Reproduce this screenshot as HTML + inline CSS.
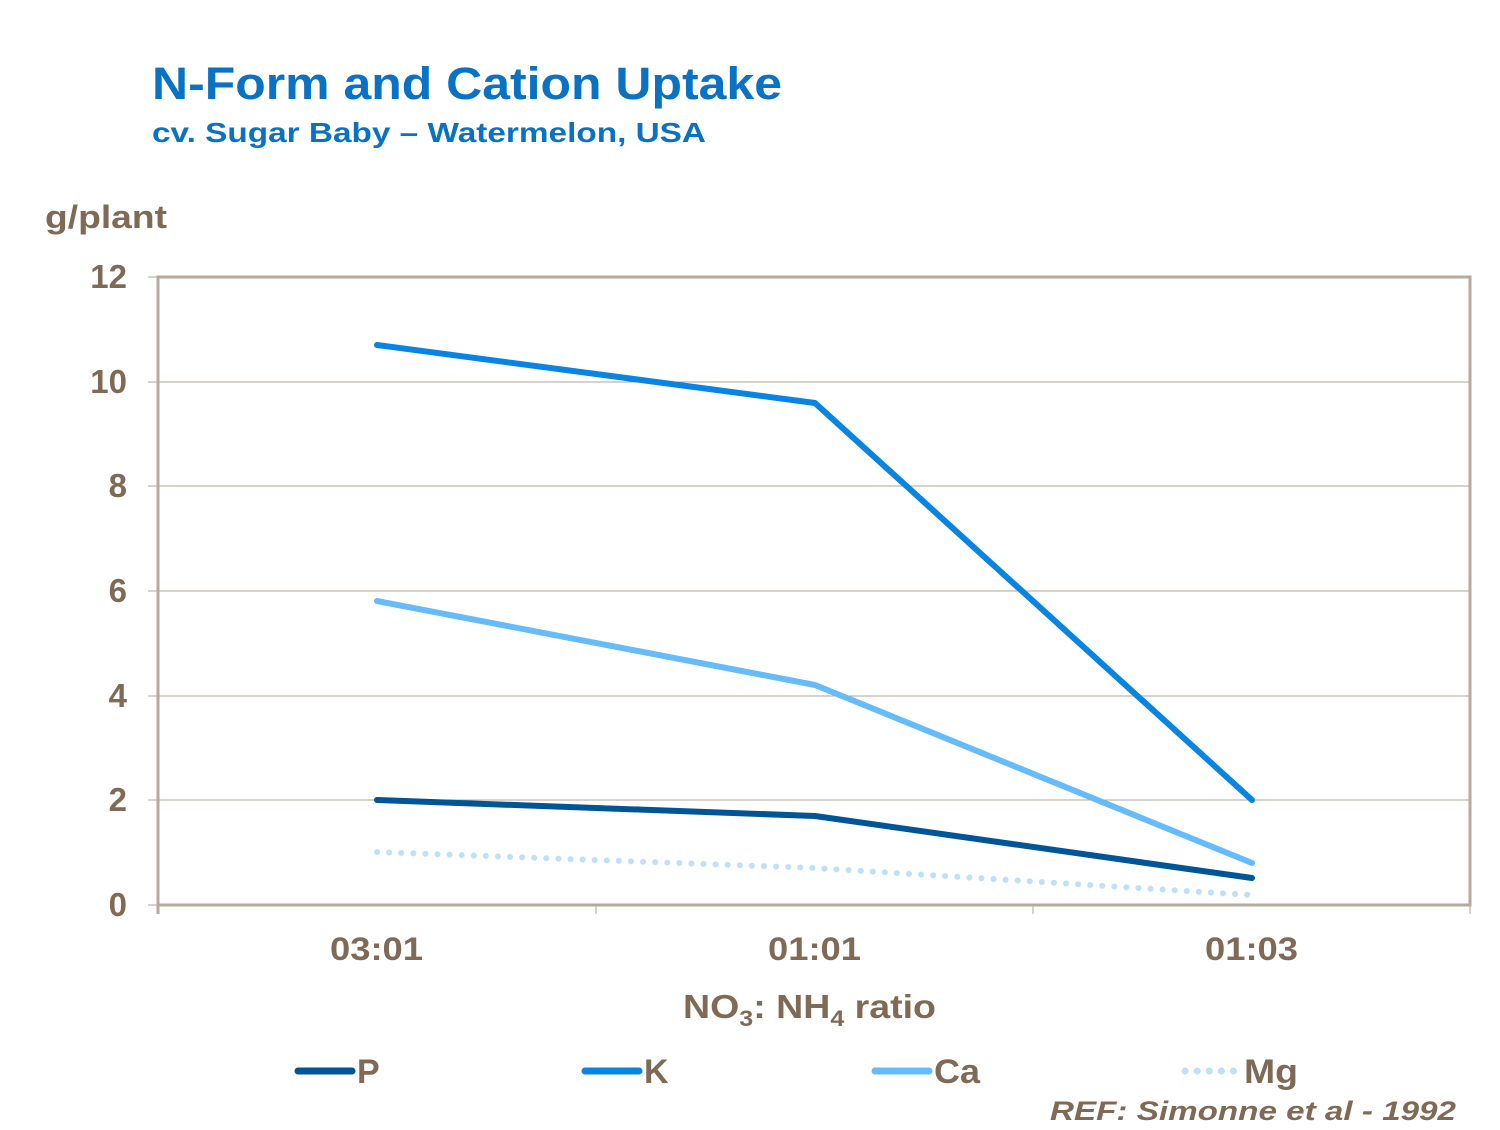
<!DOCTYPE html>
<html><head><style>
body{margin:0;background:#fff;}
svg text{font-family:"Liberation Sans",Arial,sans-serif;font-weight:bold;}
</style></head><body>
<svg width="1500" height="1125" xmlns="http://www.w3.org/2000/svg">
<text x="152" y="99" font-size="45" fill="#0a72c4" textLength="630" lengthAdjust="spacingAndGlyphs">N-Form and Cation Uptake</text>
<text x="152" y="142" font-size="28" fill="#0a72c4" textLength="554" lengthAdjust="spacingAndGlyphs">cv. Sugar Baby – Watermelon, USA</text>
<text x="45" y="228" font-size="32" fill="#7f6b55" textLength="122" lengthAdjust="spacingAndGlyphs">g/plant</text>
<g stroke="#b0a699" stroke-width="1">
<line x1="148" y1="382" x2="1470" y2="382"/>
<line x1="148" y1="486" x2="1470" y2="486"/>
<line x1="148" y1="591" x2="1470" y2="591"/>
<line x1="148" y1="696" x2="1470" y2="696"/>
<line x1="148" y1="800" x2="1470" y2="800"/>
<line x1="148" y1="905" x2="1470" y2="905"/>
<line x1="148" y1="277" x2="158" y2="277"/>
<line x1="596" y1="905" x2="596" y2="914"/>
<line x1="1033" y1="905" x2="1033" y2="914"/>
<line x1="1470" y1="905" x2="1470" y2="914"/>
</g>
<rect x="158" y="277" width="1312" height="628" fill="none" stroke="#b5aa9e" stroke-width="3"/>
<line x1="158" y1="277" x2="158" y2="914" stroke="#b5aa9e" stroke-width="3"/>
<g font-size="33" fill="#7f6b55" text-anchor="end">
<text x="127" y="288">12</text><text x="127" y="393">10</text><text x="127" y="497">8</text>
<text x="127" y="602">6</text><text x="127" y="707">4</text><text x="127" y="811">2</text><text x="127" y="916">0</text>
</g>
<g font-size="32" fill="#7f6b55">
<text x="330" y="960" textLength="93" lengthAdjust="spacingAndGlyphs">03:01</text>
<text x="768" y="960" textLength="93" lengthAdjust="spacingAndGlyphs">01:01</text>
<text x="1205" y="960" textLength="93" lengthAdjust="spacingAndGlyphs">01:03</text>
<text x="683" y="1018" font-size="33" textLength="253" lengthAdjust="spacingAndGlyphs">NO<tspan font-size="22" dy="8">3</tspan><tspan dy="-8">: NH</tspan><tspan font-size="22" dy="8">4</tspan><tspan dy="-8"> ratio</tspan></text>
</g>
<g fill="none" stroke-linecap="round" stroke-linejoin="round">
<polyline points="377,800 815,816 1252,878" stroke="#005596" stroke-width="6"/>
<polyline points="377,345 815,403 1252,800" stroke="#0884e2" stroke-width="6"/>
<polyline points="377,601 815,685 1252,863" stroke="#66bbfa" stroke-width="6"/>
<polyline points="377,852 815,868 1252,895" stroke="#bfe1f8" stroke-width="6" stroke-dasharray="0.1,12"/>
<line x1="298" y1="1071" x2="352" y2="1071" stroke="#005596" stroke-width="7"/>
<line x1="585" y1="1071" x2="639" y2="1071" stroke="#0884e2" stroke-width="7"/>
<line x1="875" y1="1071" x2="929" y2="1071" stroke="#66bbfa" stroke-width="7"/>
<line x1="1185" y1="1071" x2="1239" y2="1071" stroke="#bfe1f8" stroke-width="7" stroke-dasharray="0.1,12"/>
</g>
<g font-size="34" fill="#7f6b55">
<text x="357" y="1083">P</text><text x="644" y="1083">K</text><text x="934" y="1083" textLength="46" lengthAdjust="spacingAndGlyphs">Ca</text><text x="1244" y="1083" textLength="54" lengthAdjust="spacingAndGlyphs">Mg</text>
</g>
<text x="1050" y="1120" font-size="27" fill="#7f6b55" font-style="italic" textLength="406" lengthAdjust="spacingAndGlyphs">REF: Simonne et al - 1992</text>
</svg>
</body></html>
